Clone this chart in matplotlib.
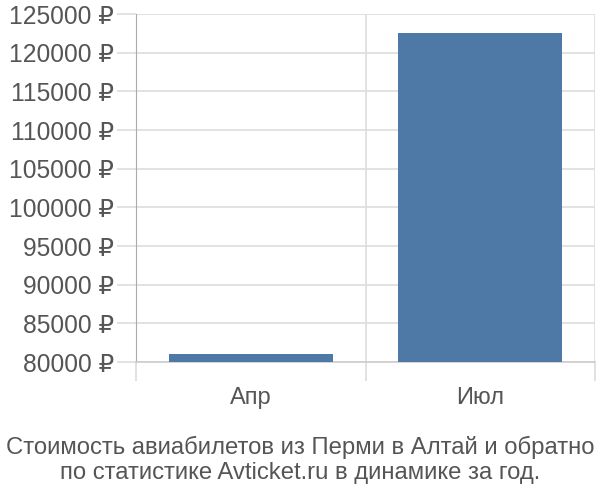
import matplotlib
matplotlib.use("Agg")
import matplotlib.pyplot as plt
from matplotlib.ticker import FuncFormatter, FixedLocator

categories = ["Апр", "Июл"]
values = [81000, 122500]
yticks = list(range(80000, 125001, 5000))
title = "Стоимость авиабилетов из Перми в Алтай и обратно\nпо статистике Avticket.ru в динамике за год."

plt.rcParams['font.family'] = ['Liberation Sans', 'DejaVu Sans']

fig = plt.figure(figsize=(6, 5), dpi=100)
ax = fig.add_axes([136/600, 1 - 362/500, (595 - 136)/600, (362 - 14)/500])

x = list(range(len(categories)))
ax.bar(x, [v - 80000 for v in values], bottom=80000, width=0.715, color="#4e78a6", zorder=3)

ax.set_ylim(80000, 125000)
ax.set_xlim(-0.5, len(categories) - 0.5)
ax.set_yticks(yticks)
ax.yaxis.set_major_formatter(FuncFormatter(lambda v, p: f"{int(v)} ₽"))
ax.grid(axis='y', color="#dddddd", linewidth=1.2, zorder=0)

# category separators
ax.xaxis.set_major_locator(FixedLocator([i - 0.5 for i in range(len(categories) + 1)]))
ax.xaxis.set_minor_locator(FixedLocator(x))
ax.set_xticklabels([], minor=False)
ax.set_xticklabels(categories, minor=True)
ax.grid(axis='x', which='major', color="#dddddd", linewidth=1.2, zorder=0)
ax.tick_params(axis='x', which='major', length=14, color="#dddddd", width=1.2)
ax.tick_params(axis='x', which='minor', length=0, pad=18, labelsize=17, labelcolor="#555555")
ax.tick_params(axis='y', length=14, color="#dddddd", width=1.2, labelsize=17.7, labelcolor="#555555", pad=2)

for s in ['top', 'right']:
    ax.spines[s].set_visible(False)
ax.spines['left'].set_color("#aaaaaa")
ax.spines['left'].set_bounds(80000, 125000)
ax.spines['bottom'].set_color("#cccccc")
ax.spines['bottom'].set_linewidth(1.2)

fig.text(0.5, 1 - 460/500, title, ha='center', va='center', fontsize=17.2, color="#555555", linespacing=1.15)

fig.savefig("out.png", dpi=100)
